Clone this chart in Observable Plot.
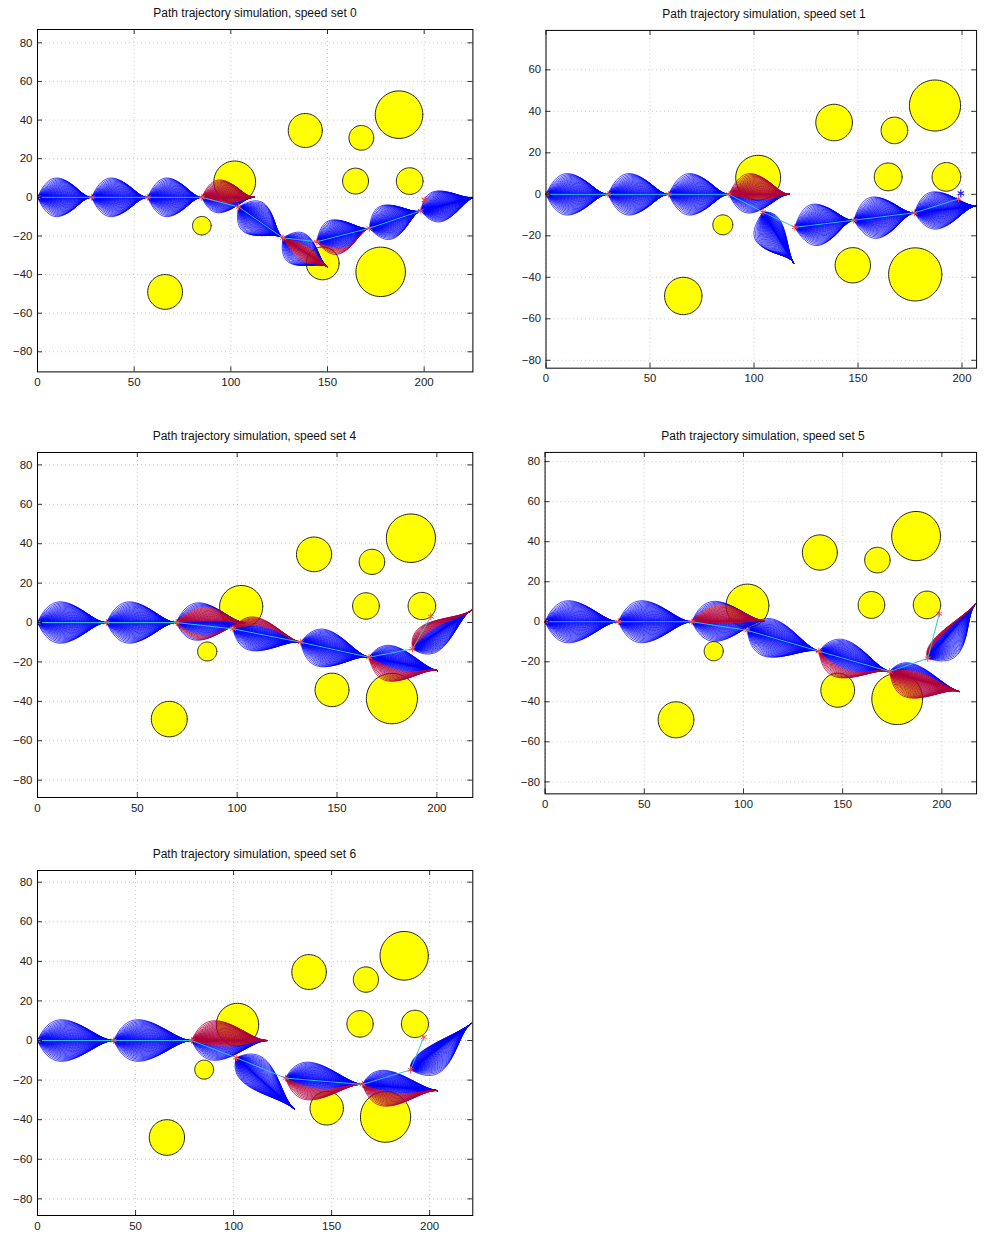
<!DOCTYPE html>
<html>
<head>
<meta charset="utf-8">
<script src="https://cdn.jsdelivr.net/npm/d3@7"></script>
<script src="https://cdn.jsdelivr.net/npm/@observablehq/plot@0.6"></script>
<style>
  body { margin: 0; background: #fff; width: 984px; height: 1236px; position: relative; overflow: hidden;
         font-family: "Liberation Sans", Arial, Helvetica, sans-serif; }
  .panel { position: absolute; }
  .title { position: absolute; font-size: 12px; color: #111; white-space: nowrap; transform: translateX(-50%); }
</style>
</head>
<body>
<script>
// Circular obstacles (same field for every run)
const obstacleX = [66, 85, 102, 138.5, 167.5, 187, 164.5, 192.5, 147.5, 177.5];
const obstacleY = [-49, -14.7, 8, 34.6, 30.8, 42.8, 8.4, 8.4, -34.2, -38.6];
const obstacleR = [9, 4.8, 10.8, 8.8, 6.4, 12.3, 6.7, 6.9, 8.5, 12.8];

const xTickValues = [0, 50, 100, 150, 200];
const yTickValues = [-80, -60, -40, -20, 0, 20, 40, 60, 80];
const yTickValuesShort = [-80, -60, -40, -20, 0, 20, 40, 60];

// Selected path nodes for each speed set
const path0X = [0, 28, 57, 85, 104, 127, 144.5, 171.7, 198.3];
const path0Y = [0, 0, 0, 0, -5, -21, -23, -16, -7];
const path1X = [0, 29.8, 59, 88, 104.3, 119.6, 148, 177.2, 198.4];
const path1Y = [0, 0, 0, 0, -8.6, -15.9, -12.5, -8.9, -2.2];
const path4X = [0, 34.6, 69.5, 97.9, 131.8, 166, 187.8, 197];
const path4Y = [0, 0, 0, -3.2, -10, -17.6, -13.4, 3];
const path5X = [0, 36.9, 74, 101.9, 138, 173.7, 192.9, 198.7];
const path5Y = [0, 0, 0, -4.3, -14.7, -24.9, -18.3, 4];
const path6X = [0, 38.9, 78.6, 101.4, 126.5, 165.7, 190.3, 197];
const path6Y = [0, 0, 0, -8.7, -19, -22.2, -14.8, 1.7];

// Goal markers
const goal0 = [200.5, -1.5];
const goal1 = [199.4, 0.5];

// Candidate trajectory fans: origin x, origin y, tip x, tip y,
// spread to the left / right of the heading, colliding (red) strand ranges
const fans0 = [
  [0, 0, 28, 0, 10, 10, []],
  [28, 0, 57, 0, 10, 10, []],
  [57, 0, 85, 0, 10, 10, []],
  [85, 0, 112, 0, 9, 8, [[-0.35, 1]]],
  [104, -5, 127, -21, 9, 9, []],
  [127, -21, 150, -36, 8, 9, [[-0.5, 0.4]]],
  [144.5, -23, 171.7, -16, 9, 9, [[-1, -0.7]]],
  [171.7, -16, 198.3, -7, 9, 9, []],
  [198.3, -7, 226, 0, 8, 8, []]
];
const fans1 = [
  [0, 0, 29.8, 0, 10, 10, []],
  [29.8, 0, 59, 0, 10, 10, []],
  [59, 0, 88, 0, 10, 10, []],
  [88, 0, 117, 0, 10, 9, [[-0.3, 1]]],
  [104.3, -8.6, 119, -33, 5, 10, []],
  [119.6, -15.9, 148, -12.5, 10, 10, []],
  [148, -12.5, 177.2, -8.9, 10, 10, []],
  [177.2, -8.9, 207, -5.5, 9, 9, []]
];
const fans4 = [
  [0, 0, 34.6, 0, 10.5, 10.5, []],
  [34.6, 0, 69.5, 0, 10.5, 10.5, []],
  [69.5, 0, 104, 0, 10, 9, [[0.1, 0.8], [-0.95, -0.7]]],
  [97.9, -3.2, 131.8, -10, 8, 9, [[0.5, 1]]],
  [131.8, -10, 166, -17.6, 9, 10, []],
  [166, -17.6, 200.3, -24.4, 8, 10, [[-1, -0.35]]],
  [187.8, -13.4, 217, 6, 7, 8, [[0.4, 1]]]
];
const fans5 = [
  [0, 0, 36.9, 0, 10.5, 10.5, []],
  [36.9, 0, 74, 0, 10.5, 10.5, []],
  [74, 0, 110.6, 0.6, 10, 10, [[-0.1, 0.85]]],
  [101.9, -4.3, 138, -14.7, 9, 10, []],
  [138, -14.7, 173.7, -24.9, 9, 10, [[-1, -0.5]]],
  [173.7, -24.9, 208.6, -34.8, 7, 10, [[-1, 0.5]]],
  [192.9, -18.3, 217, 8.9, 4, 10, [[0.6, 1]]]
];
const fans6 = [
  [0, 0, 38.9, 0, 10.5, 10.5, []],
  [38.9, 0, 78.6, 0, 10.5, 10.5, []],
  [78.6, 0, 117.2, 0, 10, 10, [[-0.3, 1]]],
  [101.4, -8.7, 130.8, -34.5, 9, 7, []],
  [126.5, -19, 165.7, -22.2, 9, 10, [[-1, -0.4]]],
  [165.7, -22.2, 204, -25.3, 8, 10, [[-1, -0.3]]],
  [190.3, -14.8, 221, 8.4, 4, 10, []]
];

// Panel frames on the page (plot box in px) and axis limits
const panels = [
  {title: "Path trajectory simulation, speed set 0", box: [37.3, 29.3, 472.7, 371.7], xDomain: [0, 225.2], yDomain: [-90.4, 86.9],
   yTicks: yTickValues, fans: fans0, pathX: path0X, pathY: path0Y, goal: goal0, goalColor: "#ff3030"},
  {title: "Path trajectory simulation, speed set 1", box: [546, 30, 982, 372], xDomain: [0, 207], yDomain: [-83.8, 79],
   yTicks: yTickValuesShort, fans: fans1, pathX: path1X, pathY: path1Y, goal: goal1, goalColor: "#2020ff"},
  {title: "Path trajectory simulation, speed set 4", box: [36.7, 452, 472, 797], xDomain: [0, 218], yDomain: [-88.8, 86.3],
   yTicks: yTickValues, fans: fans4, pathX: path4X, pathY: path4Y},
  {title: "Path trajectory simulation, speed set 5", box: [545, 452, 981, 797], xDomain: [0, 217.5], yDomain: [-86, 84.6],
   yTicks: yTickValues, fans: fans5, pathX: path5X, pathY: path5Y},
  {title: "Path trajectory simulation, speed set 6", box: [36.7, 870, 472, 1215], xDomain: [0, 222], yDomain: [-88.4, 85.9],
   yTicks: yTickValues, fans: fans6, pathX: path6X, pathY: path6Y}
];

// Outline of each obstacle as a closed ring of points
function obstacleRings() {
  const rows = [];
  obstacleX.forEach((cx, i) => {
    for (let j = 0; j <= 72; j++) {
      const a = (j / 72) * 2 * Math.PI;
      rows.push({id: i, x: cx + obstacleR[i] * Math.cos(a), y: obstacleY[i] + obstacleR[i] * Math.sin(a)});
    }
  });
  return rows;
}

// Each fan is a family of cubic Bezier strands: they leave the origin at
// headings spread over ±THETA and all arrive at the tip along the fan axis.
// Strands are packed more tightly near the axis.
const THETA = 66 * Math.PI / 180;
function fanStrands(fans, panelIndex) {
  const rows = [];
  const N = 61, S = 30;
  fans.forEach((f, fi) => {
    const [ox, oy, tx, ty, wl, wr, red] = f;
    const dx = tx - ox, dy = ty - oy, d = Math.hypot(dx, dy);
    const ux = dx / d, uy = dy / d, nx = -uy, ny = ux;
    for (let s = 0; s < N; s++) {
      const u = -1 + (2 * s) / (N - 1);
      const k = Math.sign(u) * Math.pow(Math.abs(u), 1.4);
      const th = Math.asin(k * Math.sin(THETA));
      const w = k >= 0 ? wl : wr;
      const c = w / (0.444 * Math.sin(THETA));           // control arm length
      const isRed = red.some(([lo, hi]) => k >= lo && k <= hi);
      const p1x = ox + c * (Math.cos(th) * ux + Math.sin(th) * nx);
      const p1y = oy + c * (Math.cos(th) * uy + Math.sin(th) * ny);
      const p2x = ox + 0.72 * d * ux, p2y = oy + 0.72 * d * uy;
      for (let j = 0; j <= S; j++) {
        const t = j / S, m = 1 - t;
        const b0 = m * m * m, b1 = 3 * m * m * t, b2 = 3 * m * t * t, b3 = t * t * t;
        rows.push({
          id: `${panelIndex}-${fi}-${s}`,
          red: isRed,
          x: b0 * ox + b1 * p1x + b2 * p2x + b3 * tx,
          y: b0 * oy + b1 * p1y + b2 * p2y + b3 * ty
        });
      }
    }
  });
  return rows;
}

const rings = obstacleRings();

panels.forEach((p, pi) => {
  const [x0, y0, x1, y1] = p.box;
  const mL = 40, mR = 8, mT = 6, mB = 24;
  const W = x1 - x0, H = y1 - y0;
  const kx = W / (p.xDomain[1] - p.xDomain[0]);
  const ky = H / (p.yDomain[1] - p.yDomain[0]);
  const tickLenX = 5 / ky, tickLenY = 5 / kx;
  const strands = fanStrands(p.fans, pi);
  const pathPts = p.pathX.map((x, i) => ({x, y: p.pathY[i]}));

  const marks = [
    Plot.gridX(xTickValues, {stroke: "#000", strokeOpacity: 0.28, strokeDasharray: "1,3", strokeWidth: 0.8}),
    Plot.gridY(p.yTicks, {stroke: "#000", strokeOpacity: 0.28, strokeDasharray: "1,3", strokeWidth: 0.8}),
    Plot.line(rings, {x: "x", y: "y", z: "id", fill: "#ffff00", stroke: "#222", strokeWidth: 1, clip: true}),
    Plot.line(strands.filter(d => !d.red), {x: "x", y: "y", z: "id", stroke: "#0000ff", strokeWidth: 0.8, strokeOpacity: 0.9, curve: "linear", clip: true}),
    Plot.line(strands.filter(d => d.red), {x: "x", y: "y", z: "id", stroke: "#b0003c", strokeWidth: 0.85, strokeOpacity: 0.95, curve: "linear", clip: true}),
    Plot.line(pathPts, {x: "x", y: "y", stroke: "#29c6d0", strokeWidth: 1, clip: true}),
    Plot.dot(pathPts, {x: "x", y: "y", symbol: "asterisk", r: 3.2, stroke: "#ff4a4a", strokeWidth: 1, clip: true}),
    // inward tick marks on all four sides
    Plot.ruleX(xTickValues, {x: d => d, y1: p.yDomain[0], y2: p.yDomain[0] + tickLenX, stroke: "#000", strokeWidth: 0.8}),
    Plot.ruleX(xTickValues, {x: d => d, y1: p.yDomain[1] - tickLenX, y2: p.yDomain[1], stroke: "#000", strokeWidth: 0.8}),
    Plot.ruleY(p.yTicks, {y: d => d, x1: p.xDomain[0], x2: p.xDomain[0] + tickLenY, stroke: "#000", strokeWidth: 0.8}),
    Plot.ruleY(p.yTicks, {y: d => d, x1: p.xDomain[1] - tickLenY, x2: p.xDomain[1], stroke: "#000", strokeWidth: 0.8}),
    Plot.axisX(xTickValues, {tickSize: 0, tickPadding: 6, fontSize: 11.5, label: null}),
    Plot.axisY(p.yTicks, {tickSize: 0, tickPadding: 5, fontSize: 11.5, label: null}),
    Plot.frame({stroke: "#000", strokeWidth: 1})
  ];
  if (p.goal) {
    marks.splice(7, 0, Plot.dot([{x: p.goal[0], y: p.goal[1]}], {x: "x", y: "y", symbol: "asterisk", r: 3.5, stroke: p.goalColor, strokeWidth: 1.2}));
  }

  const chart = Plot.plot({
    width: W + mL + mR,
    height: H + mT + mB,
    marginLeft: mL, marginRight: mR, marginTop: mT, marginBottom: mB,
    x: {domain: p.xDomain, axis: null},
    y: {domain: p.yDomain, axis: null},
    style: {background: "transparent", color: "#222", fontFamily: "Liberation Sans, Arial, sans-serif", overflow: "visible"},
    marks
  });
  const holder = document.createElement("div");
  holder.className = "panel";
  holder.style.left = `${x0 - mL}px`;
  holder.style.top = `${y0 - mT}px`;
  holder.appendChild(chart);
  document.body.appendChild(holder);

  const title = document.createElement("div");
  title.className = "title";
  title.textContent = p.title;
  title.style.left = `${(x0 + x1) / 2}px`;
  title.style.top = `${y0 - 23}px`;
  document.body.appendChild(title);
});
</script>
</body>
</html>
